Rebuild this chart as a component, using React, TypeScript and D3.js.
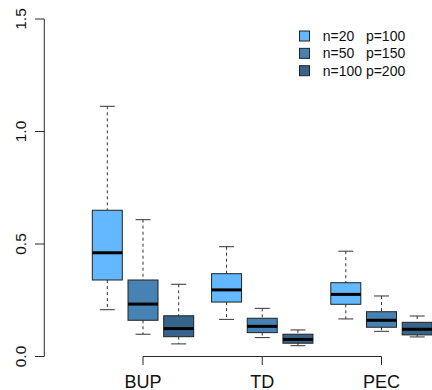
import React from "react";
import * as d3 from "d3";

const groups = ["BUP", "TD", "PEC"];
const seriesLabels = ["n=20   p=100", "n=50   p=150", "n=100 p=200"];
const seriesColors = ["#63B8FF", "#4682B4", "#36648B"];
const yTicks = [0, 0.5, 1.0, 1.5];

// [lowerWhisker, Q1, median, Q3, upperWhisker] per group, per series
const bupStats = [
  [0.208, 0.34, 0.461, 0.65, 1.112],
  [0.099, 0.161, 0.233, 0.34, 0.608],
  [0.056, 0.088, 0.124, 0.181, 0.321],
];
const tdStats = [
  [0.165, 0.242, 0.296, 0.368, 0.488],
  [0.084, 0.106, 0.134, 0.17, 0.214],
  [0.048, 0.059, 0.076, 0.099, 0.118],
];
const pecStats = [
  [0.167, 0.232, 0.276, 0.328, 0.468],
  [0.112, 0.13, 0.161, 0.199, 0.269],
  [0.087, 0.096, 0.121, 0.152, 0.18],
];
const allStats = [bupStats, tdStats, pecStats];

const W = 432;
const H = 390;

export default function App() {
  const y = d3.scaleLinear().domain([0, 1.5]).range([356.5, 19]);
  const step = 119.25;
  const gx = d3
    .scaleBand<string>()
    .domain(groups)
    .range([143 - step / 2, 381.5 + step / 2])
    .padding(0);
  const sx = d3.scalePoint<number>().domain([0, 1, 2]).range([-35.7, 35.7]);
  const boxW = 30;
  const capW = 15;
  const font = "'Liberation Sans', Arial, Helvetica, sans-serif";
  const axisColor = "#2a2a2a";
  const gc = (g: string) => (gx(g) as number) + gx.bandwidth() / 2;

  return (
    <svg
      width={W}
      height={H}
      style={{ position: "absolute", left: 0, top: 0, background: "#fff" }}
      fontFamily={font}
    >
      <rect x={0} y={0} width={W} height={H} fill="#fff" />
      {/* boxes */}
      {groups.map((g, gi) =>
        allStats[gi].map((s, si) => {
          const cx = gc(g) + (sx(si) as number);
          const [lo, q1, med, q3, hi] = s;
          return (
            <g key={g + si}>
              <line x1={cx} x2={cx} y1={y(hi)} y2={y(q3)} stroke="#333" strokeWidth={1} strokeDasharray="3,3" />
              <line x1={cx} x2={cx} y1={y(q1)} y2={y(lo)} stroke="#333" strokeWidth={1} strokeDasharray="3,3" />
              <line x1={cx - capW / 2} x2={cx + capW / 2} y1={y(hi)} y2={y(hi)} stroke="#333" strokeWidth={1} />
              <line x1={cx - capW / 2} x2={cx + capW / 2} y1={y(lo)} y2={y(lo)} stroke="#333" strokeWidth={1} />
              <rect
                x={cx - boxW / 2}
                y={y(q3)}
                width={boxW}
                height={y(q1) - y(q3)}
                fill={seriesColors[si]}
                stroke="#222"
                strokeWidth={1}
              />
              <line x1={cx - boxW / 2} x2={cx + boxW / 2} y1={y(med)} y2={y(med)} stroke="#000" strokeWidth={3} />
            </g>
          );
        })
      )}
      {/* y axis */}
      <line x1={44.3} x2={44.3} y1={y(1.5)} y2={y(0)} stroke={axisColor} strokeWidth={1} />
      {yTicks.map((t) => (
        <g key={t}>
          <line x1={35} x2={44.3} y1={y(t)} y2={y(t)} stroke={axisColor} strokeWidth={1} />
          <text
            transform={`translate(25.5,${y(t)}) rotate(-90)`}
            textAnchor="middle"
            fontSize={15.5}
            fill="#111"
          >
            {t.toFixed(1)}
          </text>
        </g>
      ))}
      {/* x axis */}
      <line x1={gc(groups[0])} x2={gc(groups[groups.length - 1])} y1={356.5} y2={356.5} stroke={axisColor} strokeWidth={1} />
      {groups.map((g) => (
        <g key={g}>
          <line x1={gc(g)} x2={gc(g)} y1={356.5} y2={365} stroke={axisColor} strokeWidth={1} />
          <text x={gc(g)} y={387.5} textAnchor="middle" fontSize={18} fill="#111">
            {g}
          </text>
        </g>
      ))}
      {/* legend */}
      {seriesLabels.map((l, i) => {
        const cy = 36 + i * 17.35;
        return (
          <g key={l}>
            <rect x={299.5} y={cy - 5} width={10} height={10} fill={seriesColors[i]} stroke="#222" strokeWidth={1} />
            <text x={322.7} y={cy + 5} fontSize={14} fill="#111" style={{ whiteSpace: "pre" }} xmlSpace="preserve">
              {l}
            </text>
          </g>
        );
      })}
    </svg>
  );
}
